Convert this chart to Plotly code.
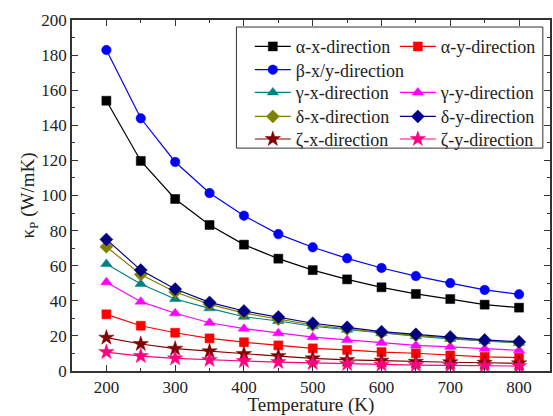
import plotly.graph_objects as go

temperature = [200, 250, 300, 350, 400, 450, 500, 550, 600, 650, 700, 750, 800]

alpha_x = [154.0, 119.7, 98.0, 83.2, 72.0, 64.0, 57.5, 52.2, 47.7, 43.9, 41.0, 37.8, 36.1]
alpha_y = [32.3, 25.8, 21.8, 18.6, 16.4, 14.6, 12.9, 12.0, 10.8, 10.1, 8.9, 8.1, 7.6]
beta_xy = [182.9, 144.0, 119.1, 101.4, 88.5, 78.0, 70.5, 64.2, 58.7, 54.1, 50.1, 46.2, 43.7]
gamma_x = [61.0, 49.6, 41.0, 35.7, 30.9, 28.5, 25.5, 23.5, 21.5, 19.8, 18.3, 17.0, 16.0]
gamma_y = [50.6, 39.5, 32.9, 27.5, 24.1, 21.5, 19.3, 17.7, 16.1, 14.6, 13.8, 12.7, 11.8]
delta_x = [70.8, 55.0, 45.0, 38.0, 33.0, 29.5, 26.2, 24.0, 21.8, 20.3, 18.8, 17.2, 16.3]
delta_y = [75.0, 57.5, 46.7, 39.1, 34.2, 30.8, 27.2, 24.9, 22.4, 20.9, 19.4, 17.7, 16.7]
zeta_x = [19.0, 15.4, 12.7, 11.2, 9.7, 8.5, 7.2, 6.3, 5.9, 5.3, 5.0, 4.7, 4.4]
zeta_y = [10.8, 8.5, 7.2, 6.3, 5.7, 5.1, 4.6, 4.0, 3.6, 3.4, 3.2, 3.0, 2.8]

FONT = "Liberation Serif"

# (name, values, colour, symbol, size, legend row, legend entry width)
series = [
    ("α-x-direction", alpha_x, "#000000", "square", 9, "legend", 94),
    ("α-y-direction", alpha_y, "#FF0000", "square", 9, "legend", 100),
    ("β-x/y-direction", beta_xy, "#0000FF", "circle", 9.5, "legend2", 125),
    ("γ-x-direction", gamma_x, "#008080", "triangle-up", 10, "legend3", 94),
    ("γ-y-direction", gamma_y, "#FF00FF", "triangle-up", 10, "legend3", 100),
    ("δ-x-direction", delta_x, "#808000", "diamond", 10, "legend4", 94),
    ("δ-y-direction", delta_y, "#000080", "diamond", 10, "legend4", 100),
    ("ζ-x-direction", zeta_x, "#800000", "star", 11.5, "legend5", 94),
    ("ζ-y-direction", zeta_y, "#FF0080", "star", 11.5, "legend5", 100),
]

fig = go.Figure()
for name, vals, color, sym, size, leg, lw in series:
    fig.add_trace(go.Scatter(
        x=temperature, y=vals, name=name, mode="lines+markers", legend=leg,
        legendwidth=lw,
        line=dict(color=color, width=1.2),
        marker=dict(symbol=sym, size=size, color=color,
                    line=dict(width=0.5, color=color)),
    ))

axis_common = dict(
    showline=True, linecolor="#333333", linewidth=1.5, mirror="ticks",
    ticks="inside", ticklen=6, tickwidth=1.2, tickcolor="#333333",
    showgrid=False, zeroline=False,
    tickfont=dict(family=FONT, size=17, color="#222222"),
)

fig.update_xaxes(
    range=[150, 845], tickvals=[200, 300, 400, 500, 600, 700, 800],
    minor=dict(dtick=50, ticks="inside", ticklen=3, tickcolor="#333333", showgrid=False),
    title=dict(text="Temperature (K)", standoff=0,
               font=dict(family=FONT, size=19, color="#222222")),
    **axis_common)
fig.update_yaxes(
    range=[0, 200], dtick=20,
    minor=dict(dtick=10, ticks="inside", ticklen=3, tickcolor="#333333", showgrid=False),
    title=dict(text="κ<sub>P</sub> (W/mK)", standoff=2,
               font=dict(family=FONT, size=19, color="#222222")),
    **axis_common)

legend_common = dict(
    orientation="h", yanchor="middle", xanchor="left", x=0.372,
    bgcolor="rgba(0,0,0,0)", borderwidth=0,
    font=dict(family=FONT, size=18, color="#222222"),
    tracegroupgap=0, itemwidth=36,
)
row_y = [0.924, 0.8575, 0.7929, 0.7245, 0.6601]

fig.update_layout(
    width=553, height=416,
    margin=dict(l=72, r=1, t=20, b=45),
    font=dict(family=FONT, color="#222222"),
    plot_bgcolor="white", paper_bgcolor="white",
    showlegend=True,
    legend=dict(y=row_y[0], **legend_common),
    legend2=dict(y=row_y[1], **legend_common),
    legend3=dict(y=row_y[2], **legend_common),
    legend4=dict(y=row_y[3], **legend_common),
    legend5=dict(y=row_y[4], **legend_common),
    shapes=[dict(type="rect", xref="paper", yref="paper",
                 x0=0.344, x1=0.985, y0=0.635, y1=0.98,
                 line=dict(color="#333333", width=1), layer="above")],
)

fig.write_html("out.html", config={"displayModeBar": False},
               post_script="document.body.style.margin='0';")
